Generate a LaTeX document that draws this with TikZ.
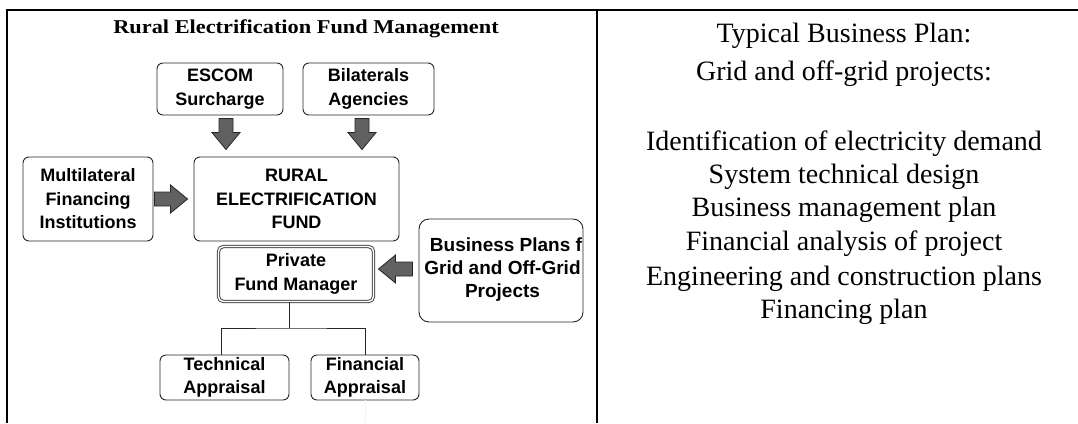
\documentclass[tikz,border=0pt]{standalone}
\usepackage{fontspec}
\usepackage{graphicx}
\setmainfont{Liberation Serif}
\newfontfamily\sansb{Liberation Sans}
\usetikzlibrary{calc}
\newcommand{\bxf}{\sansb\bfseries\fontsize{18}{23.5}\selectfont}
\newcommand{\bpf}{\sansb\bfseries\fontsize{19}{23}\selectfont}
\newcommand{\planf}{\rmfamily\fontsize{28}{33.5}\selectfont}
\newcommand{\titf}{\rmfamily\bfseries\fontsize{19.6}{23}\selectfont}
\newcommand{\blockarr}[2]{%
  \coordinate (ba-c) at ($(#2)!17pt!(#1)$);
  \draw[arrowfill] ($(#1)!7pt!90:(#2)$) -- ($(ba-c)!7pt!-90:(#1)$) -- ($(ba-c)!14pt!-90:(#1)$) -- (#2)
     -- ($(ba-c)!14pt!90:(#1)$) -- ($(ba-c)!7pt!90:(#1)$) -- ($(#1)!7pt!-90:(#2)$) -- cycle;}
\tikzset{
  box/.style={draw=black!85, line width=0.9pt, rounded corners=6pt, fill=white, align=center,
              inner sep=0pt, font=\bxf},
  dblbox/.style={box, rounded corners=5pt, draw=black!70, line width=1pt, double=white, double distance=1.4pt},
  arrowfill/.style={fill=black!62, draw=black!85, line width=0.8pt, line join=miter},
  conn/.style={draw=black!85, line width=1pt},
  frame/.style={draw=black, line width=2pt},
  plan/.style={anchor=base, font=\planf, inner sep=0pt},
}
\begin{document}
\begin{tikzpicture}[x=1pt,y=-1pt]
\useasboundingbox (0,0) rectangle (1078,423);
\fill[white] (0,0) rectangle (1078,423);
% table frame
\draw[frame] (7,423) -- (7,9.5) -- (1078,9.5);
\draw[frame] (597,9.5) -- (597,423);
% title
\node[anchor=base, font=\titf, inner sep=0pt] (title) at (306,33) {\scalebox{1.14}[1]{Rural Electrification Fund Management}};
% boxes
\node[box, minimum width=126, minimum height=52] (esc) at (220,89) {ESCOM\\Surcharge};
\node[box, minimum width=131, minimum height=52] (bil) at (368.5,89) {Bilaterals\\Agencies};
\node[box, minimum width=205, minimum height=84] (ref) at (296.5,199) {RURAL\\ELECTRIFICATION\\FUND};
\node[box, minimum width=130, minimum height=84] (mfi) at (88,199) {Multilateral\\Financing\\Institutions};
\node[dblbox, minimum width=155, minimum height=55] (pfm) at (296,274) {Private\\Fund Manager};
\node[box, rounded corners=10pt, minimum width=164, minimum height=103] (bp) at (501,270.5) {};
\begin{scope}
  \clip[rounded corners=10pt] ([shift={(1pt,1pt)}]bp.south west) rectangle ([shift={(-1.5pt,-1pt)}]bp.north east);
  \node[align=center, font=\bpf, inner sep=0pt] (bptext) at (502.5,270) {\hspace*{26pt}Business Plans for\\Grid and Off-Grid\\Projects};
\end{scope}
\node[box, minimum width=129, minimum height=45] (tech) at (224.5,377.5) {Technical\\Appraisal};
\node[box, minimum width=108, minimum height=45] (fin) at (365,377.5) {Financial\\Appraisal};
% block arrows
\coordinate (a1s) at ([shift={(6pt,-3pt)}]esc.south);
\coordinate (a1e) at ([yshift=7pt]a1s |- ref.north);
\blockarr{a1s}{a1e}
\coordinate (a2s) at ([shift={(-6.5pt,-3pt)}]bil.south);
\coordinate (a2e) at ([yshift=7pt]a2s |- ref.north);
\blockarr{a2s}{a2e}
\coordinate (a3s) at ([xshift=1pt]mfi.east);
\coordinate (a3e) at ([xshift=-6pt]ref.west);
\blockarr{a3s}{a3e}
\coordinate (a4s) at ([shift={(-6pt,1.5pt)}]bp.west);
\coordinate (a4e) at ([xshift=4.5pt]pfm.east |- a4s);
\blockarr{a4s}{a4e}
% tree connector
\coordinate (tj) at ([xshift=-7pt]pfm.south);
\draw[conn] (tj) -- ++(0,26) coordinate (mid);
\draw[conn] ([xshift=-3.5pt]tech.north) |- (mid) -| (fin.north);
% faint line
\coordinate (bot) at (365,423);
\draw[yellow!30, line width=0.8pt] (fin.south) -- (bot);
% right column
\node[plan] (p1) at (844,42.7) {Typical Business Plan:};
\node[plan] (p2) at (844,80) {Grid and off-grid projects:};
\node[plan] (p3) at (844,150) {Identification of electricity demand};
\node[plan] (p4) at (844,183.3) {System technical design};
\node[plan] (p5) at (844,216.7) {Business management plan};
\node[plan] (p6) at (844,250) {Financial analysis of project};
\node[plan] (p7) at (844,285) {Engineering and construction plans};
\node[plan] (p8) at (844,318.3) {Financing plan};
\end{tikzpicture}
\end{document}
